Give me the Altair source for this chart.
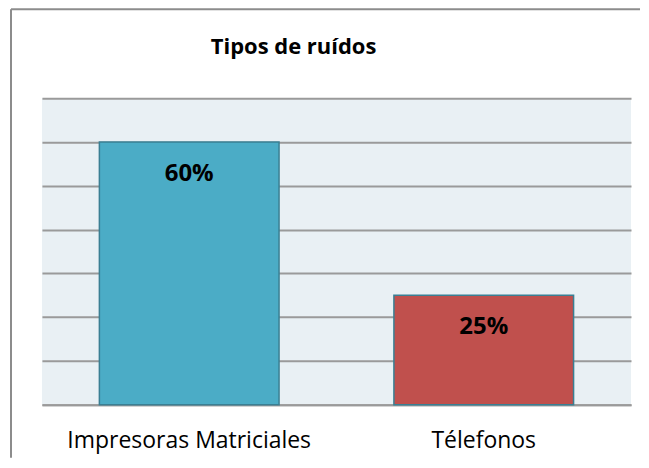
import altair as alt
import pandas as pd

categories = ["Impresoras Matriciales", "Télefonos"]
values = [60, 25]
labels = ["60%", "25%"]
colors = ["#4BACC6", "#C0504D"]
title_text = ["Tipos de ruídos"]

df = pd.DataFrame({"cat": categories, "val": values, "lab": labels, "col": colors})

FONT = "Open Sans"

x_enc = alt.X("cat:N", sort=categories,
              scale=alt.Scale(paddingInner=0.39, paddingOuter=0.195),
              axis=alt.Axis(title=None, labelAngle=0, ticks=False, domain=True,
                            domainColor="#9a9a9a", domainWidth=2,
                            labelFontSize=23, labelFont=FONT, labelColor="#000000",
                            labelPadding=25, labelLimit=400))
y_enc = alt.Y("val:Q", scale=alt.Scale(domain=[0, 70], nice=False),
              axis=alt.Axis(title=None, labels=False, ticks=False, domain=False,
                            values=list(range(0, 80, 10)), grid=True,
                            gridColor="#9a9a9a", gridWidth=2))

base = alt.Chart(df)

bars = base.mark_bar(stroke="#3A7F93", strokeWidth=1.5).encode(
    x=x_enc, y=y_enc,
    color=alt.Color("col:N", scale=None),
)

text = base.mark_text(baseline="middle", align="center", dy=32,
                      font=FONT, fontWeight="bold", fontSize=24, color="#000000").encode(
    x=alt.X("cat:N", sort=categories),
    y=alt.Y("val:Q"),
    text="lab:N",
)

one = pd.DataFrame({"t": title_text})
title = alt.Chart(one).mark_text(
    font=FONT, fontSize=22, fontWeight="bold", color="#000000",
    align="center", baseline="middle", clip=False).encode(
    text="t:N", x=alt.value(252), y=alt.value(-51))

frame_left = alt.Chart(one).mark_rule(
    color="#8c8c8c", strokeWidth=2, clip=False).encode(
    x=alt.value(-31), y=alt.value(-89), y2=alt.value(360))
frame_top = alt.Chart(one).mark_rule(
    color="#8c8c8c", strokeWidth=2, clip=False).encode(
    x=alt.value(-31), x2=alt.value(599), y=alt.value(-89))

chart = alt.layer(frame_left, frame_top, bars, text, title).properties(
    width=590, height=307,
    background="#ffffff",
    autosize=alt.AutoSizeParams(type="none"),
    padding={"left": 34, "top": 90, "right": 10, "bottom": 55},
).configure_view(fill="#E9F0F4", stroke=None)

chart.save("out.html", embed_options={"renderer": "svg", "actions": False})
